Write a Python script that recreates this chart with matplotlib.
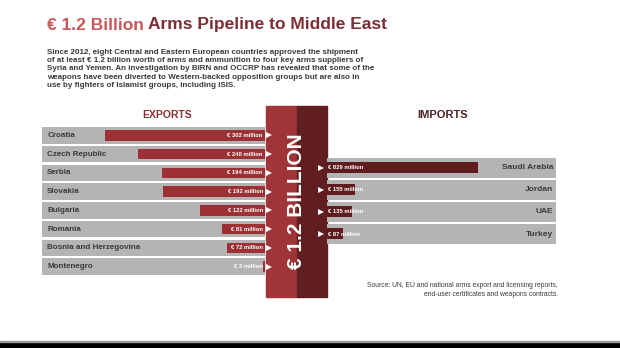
import matplotlib
matplotlib.use("Agg")
import matplotlib.pyplot as plt
from matplotlib.patches import Rectangle

# exports by country, million EUR
exporters = ["Croatia", "Czech Republic", "Serbia", "Slovakia", "Bulgaria",
             "Romania", "Bosnia and Herzegovina", "Montenegro"]
export_values = [302, 240, 194, 192, 122, 81, 72, 3]

# imports by destination, million EUR
importers = ["Saudi Arabia", "Jordan", "UAE", "Turkey"]
import_values = [829, 155, 135, 87]

total_label = "€ 1.2 BILLION"

W, H = 620, 348
LIGHT_RED = "#c9575b"
RED = "#9c3035"
DARK_RED = "#5e1c1f"
GREY = "#b4b4b4"
TEXT = "#3a3a3a"
FONT = "Liberation Sans"

plt.rcParams['font.family'] = [FONT, 'DejaVu Sans']

fig = plt.figure(figsize=(W / 100, H / 100), dpi=100)
fig.patch.set_facecolor("white")


def px_axes(x0, y0, x1, y1):
    # axes placed by pixel box (top-left origin)
    return fig.add_axes([x0 / W, 1 - y1 / H, (x1 - x0) / W, (y1 - y0) / H])


def fx(x):
    return x / W


def fy(y):
    return 1 - y / H


# ---- exports (bars grow leftwards from the pillar)
ax_e = px_axes(42, 126, 265, 276)
n = len(exporters)
ypos = list(range(n))
e_max = 421
ax_e.barh(ypos, [e_max] * n, height=0.88, color=GREY, zorder=1)
ax_e.barh(ypos, export_values, height=0.55, color=RED, zorder=2)
ax_e.set_xlim(e_max, 0)
ax_e.set_ylim(n - 0.5, -0.5)
for i, (name, v) in enumerate(zip(exporters, export_values)):
    ax_e.text(e_max - 10, i, name, color=TEXT, fontsize=5.8, fontweight="bold",
              va="center", ha="left")
    ax_e.text(4, i, "€ %d million" % v, color="white", fontsize=4.2,
              fontweight="bold", va="center", ha="right", zorder=3)
    # arrow leaving the bar into the pillar
    ax_e.plot(-0.016 * e_max, i, marker=">", color="white", markersize=4.5,
              markeredgewidth=0, clip_on=False, zorder=4)
ax_e.axis("off")
fig.text(fx(167), fy(115), "EXPORTS", color="#8b2e33", fontsize=7.5,
         fontweight="bold", ha="center", va="center")

# ---- title and intro
t1 = fig.text(fx(47), fy(25), "€ 1.2 Billion", color=LIGHT_RED, fontsize=12.5,
              fontweight="bold", va="center", ha="left")
ax_e.annotate("Arms Pipeline to Middle East", xy=(1, 0), xycoords=t1,
              xytext=(3, 0), textcoords="offset points", color="#7b2d33",
              fontsize=12.5, fontweight="bold", va="bottom", ha="left",
              annotation_clip=False)
intro = ("Since 2012, eight Central and Eastern European countries approved the shipment\n"
         "of at least € 1.2 billion worth of arms and ammunition to four key arms suppliers of\n"
         "Syria and Yemen. An investigation by BIRN and OCCRP has revealed that some of the\n"
         "weapons have been diverted to Western-backed opposition groups but are also in\n"
         "use by fighters of Islamist groups, including ISIS.")
fig.text(fx(47), fy(48.5), intro, color=TEXT, fontsize=5.75, fontweight="bold",
         va="top", ha="left", linespacing=1.27)

# ---- central pillar
fig.patches.append(Rectangle((fx(266), fy(297)), fx(31), (297 - 106) / H,
                             transform=fig.transFigure, color="#a03539", zorder=-1))
fig.patches.append(Rectangle((fx(297), fy(297)), fx(30), (297 - 106) / H,
                             transform=fig.transFigure, color="#611e21", zorder=-1))
fig.text(fx(297), fy(201), total_label, color="white", fontsize=15,
         fontweight="heavy", rotation=90, ha="center", va="center", zorder=5)

# ---- imports (bars grow rightwards from the pillar)
ax_i = px_axes(327, 157, 556, 245)
m = len(importers)
ypos_i = list(range(m))
i_max = 1258
ax_i.barh(ypos_i, [i_max] * m, height=0.9, color=GREY, zorder=1)
ax_i.barh(ypos_i, import_values, height=0.5, color=DARK_RED, zorder=2)
ax_i.set_xlim(0, i_max)
ax_i.set_ylim(m - 0.5, -0.5)
for i, (name, v) in enumerate(zip(importers, import_values)):
    ax_i.text(i_max - 15, i, name, color=TEXT, fontsize=6, fontweight="bold",
              va="center", ha="right")
    ax_i.text(8, i, "€ %d million" % v, color="white", fontsize=4.2,
              fontweight="bold", va="center", ha="left", zorder=3)
    ax_i.plot(-0.028 * i_max, i, marker=">", color="white", markersize=4.5,
              markeredgewidth=0, clip_on=False, zorder=4)
ax_i.axis("off")
fig.text(fx(443), fy(115), "IMPORTS", color="#4a2226", fontsize=8,
         fontweight="bold", ha="center", va="center")

# ---- source note
fig.text(fx(558), fy(290), "Source: UN, EU and national arms export and licensing reports,\n"
         "end-user certificates and weapons contracts.", color=TEXT, fontsize=4.85,
         ha="right", va="center", linespacing=1.3)

# ---- bottom strip
fig.patches.append(Rectangle((0, 0), 1, 6.5 / H, transform=fig.transFigure,
                             color="black"))
fig.patches.append(Rectangle((0, 6.5 / H), 1, 1 / H, transform=fig.transFigure,
                             color="#9a9a9a"))

fig.savefig("out.png", dpi=100)
